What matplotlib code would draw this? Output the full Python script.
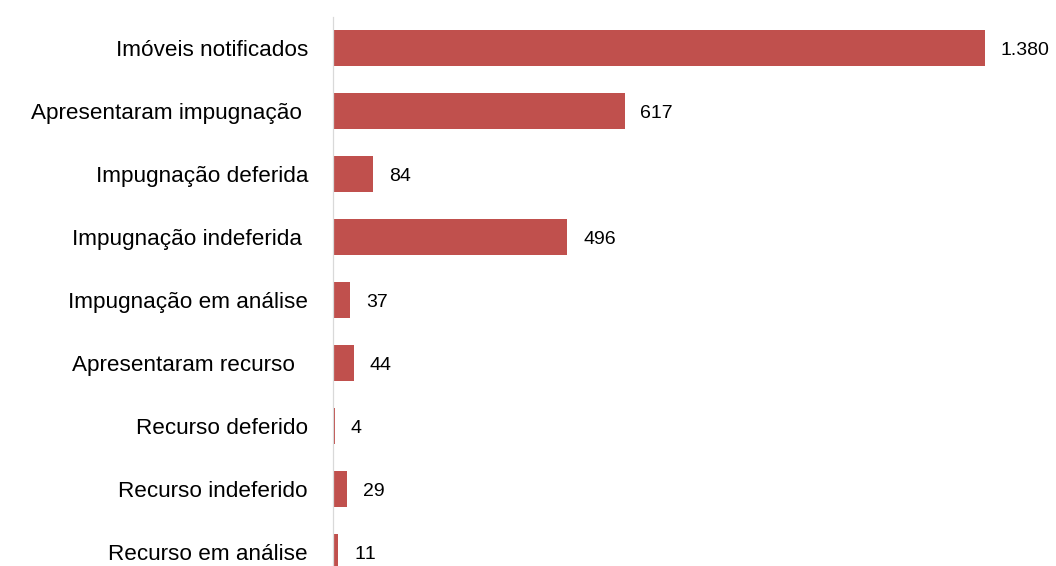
import matplotlib
matplotlib.use("Agg")
import matplotlib.pyplot as plt

categories = [
    "Imóveis notificados",
    "Apresentaram impugnação ",
    "Impugnação deferida",
    "Impugnação indeferida ",
    "Impugnação em análise",
    "Apresentaram recurso  ",
    "Recurso deferido",
    "Recurso indeferido",
    "Recurso em análise",
]
values = [1380, 617, 84, 496, 37, 44, 4, 29, 11]
value_labels = ["1.380", "617", "84", "496", "37", "44", "4", "29", "11"]

plt.rcParams['font.family'] = ['Liberation Sans', 'DejaVu Sans']
plt.rcParams['text.kerning_factor'] = 10

W, H = 1056, 566
fig = plt.figure(figsize=(W / 100, H / 100), dpi=100)
left_px, right_px = 333, 1056
top_px, bottom_px = 16.5, 583.5
ax = fig.add_axes([left_px / W, (H - bottom_px) / H,
                   (right_px - left_px) / W, (bottom_px - top_px) / H])

n = len(categories)
ypos = list(range(n))
ax.barh(ypos, values, height=0.57, color="#C0504D", zorder=2)
ax.set_ylim(n - 0.5, -0.5)
ax.set_xlim(0, (right_px - left_px) / (652 / 1380))

for y, v, lab in zip(ypos, values, value_labels):
    ax.annotate(lab, xy=(v, y), xytext=(11.5, -1.5), textcoords="offset points",
                ha="left", va="center", fontsize=14, color="black",
                annotation_clip=False)

ax.set_yticks(ypos)
ax.set_yticklabels(categories, fontsize=16.2)
ax.tick_params(axis="y", length=0, pad=18)
ax.set_xticks([])
for s in ["top", "right", "bottom"]:
    ax.spines[s].set_visible(False)
ax.spines["left"].set_color("#D9D9D9")
ax.spines["left"].set_linewidth(0.9)

fig.savefig("out.png", dpi=100)
